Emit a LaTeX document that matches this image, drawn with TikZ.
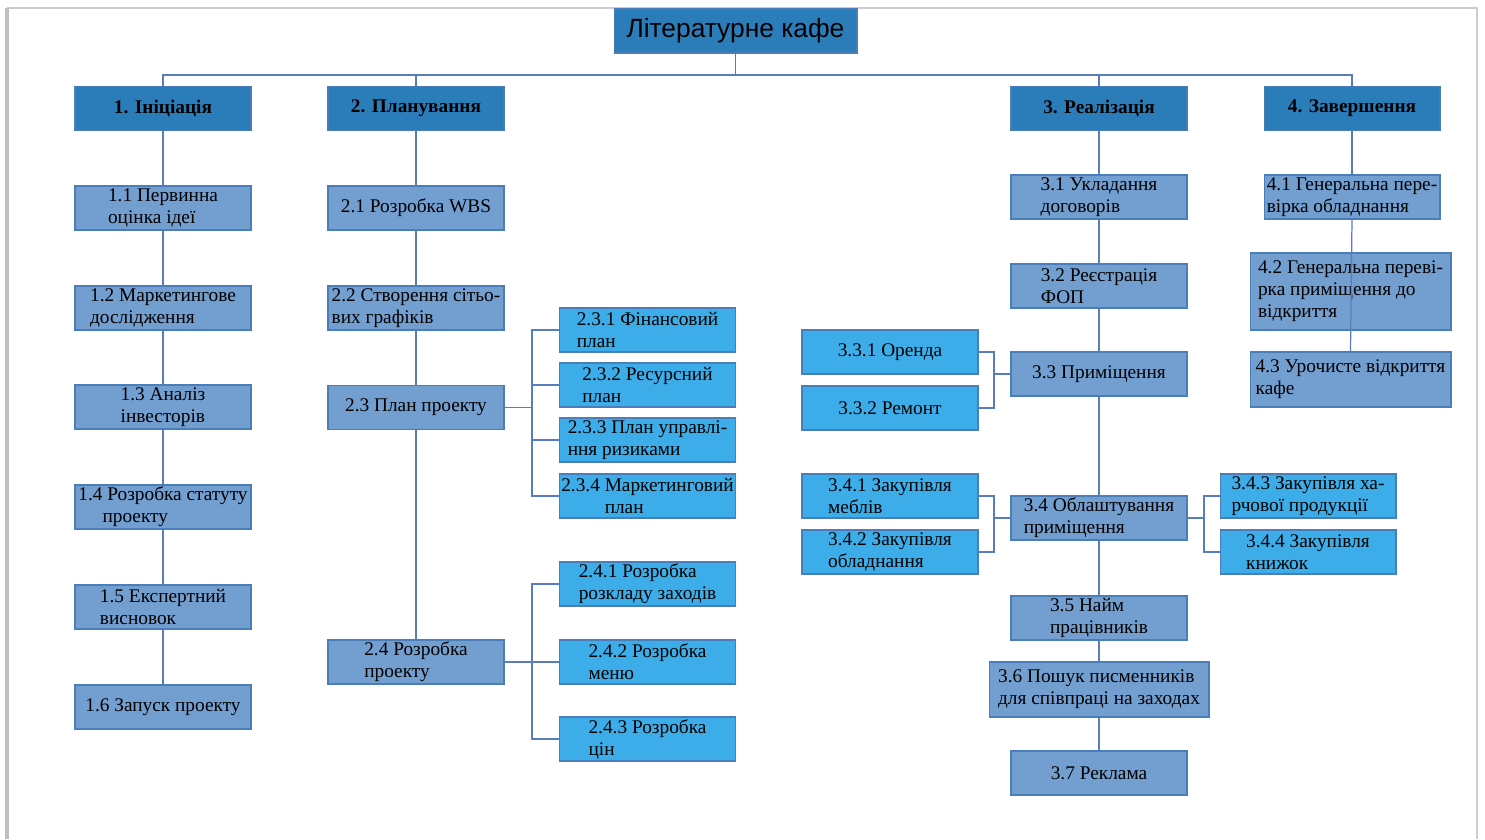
\documentclass[tikz,border=0pt]{standalone}
\usepackage{fontspec}
\setmainfont{Liberation Serif}
\newfontfamily\titlefont{Liberation Sans}
\definecolor{darkbox}{RGB}{43,125,186}
\definecolor{midbox}{RGB}{114,159,207}
\definecolor{lightbox}{RGB}{60,173,232}
\definecolor{boxline}{RGB}{74,126,187}
\definecolor{wirecol}{RGB}{88,124,190}
\begin{document}
\begin{tikzpicture}
  [x=0.02cm,y=-0.02cm,
   every node/.style={rectangle,draw=boxline,line width=0.6pt,minimum width=3.52cm,minimum height=0.88cm,
     inner sep=1pt,align=left,font=\fontsize{11}{12.5}\selectfont},
   headbox/.style={fill=darkbox,font=\fontsize{11}{12.5}\selectfont\bfseries},
   taskbox/.style={fill=midbox},
   subbox/.style={fill=lightbox},
   wire/.style={draw=wirecol,line width=0.7pt}]
  \useasboundingbox (0,0) rectangle (1485,839);
  % page edge
  \draw[gray!40,line width=1.2pt] (7,8) -- (1477,8) -- (1477,839);
  \draw[gray!50,line width=2.4pt] (7,839) -- (7,8);

  \node[headbox,minimum width=4.86cm,font=\titlefont\fontsize{15}{17}\selectfont] (top) at (735.5,31) {Літературне кафе};
  \coordinate (bus) at (735.5,75);

  \node[headbox] (p1) at (163,108.5) {1. Ініціація};
  \node[headbox] (p2) at (416,108.5) {2. Планування};
  \node[headbox] (p3) at (1099,108.5) {3. Реалізація};
  \node[headbox] (p4) at (1352,108.5) {4. Завершення};

  \node[taskbox] (n11) at (163,208) {1.1 Первинна\\оцінка ідеї};
  \node[taskbox] (n12) at (163,308) {1.2 Маркетингове\\дослідження};
  \node[taskbox] (n13) at (163,407) {1.3 Аналіз\\інвесторів};
  \node[taskbox] (n14) at (163,507) {1.4 Розробка статуту\\\quad\ проекту};
  \node[taskbox] (n15) at (163,607) {1.5 Експертний\\висновок};
  \node[taskbox] (n16) at (163,707) {1.6 Запуск проекту};

  \node[taskbox] (n21) at (416,208) {2.1 Розробка WBS};
  \node[taskbox] (n22) at (416,308) {2.2 Створення сітьо-\\вих графіків};
  \node[taskbox] (n23) at (416,407.5) {2.3 План проекту};
  \node[taskbox] (n24) at (416,662) {2.4 Розробка\\проекту};
  \coordinate (j23) at (532,407.5);
  \coordinate (j24) at (532,662);

  \node[subbox] (n231) at (647.5,330) {2.3.1 Фінансовий\\план};
  \node[subbox] (n232) at (647.5,385) {2.3.2 Ресурсний\\план};
  \node[subbox] (n233) at (647.5,440) {2.3.3 План управлі-\\ння ризиками};
  \node[subbox] (n234) at (647.5,496) {2.3.4 Маркетинговий\\\qquad\ план};
  \node[subbox] (n241) at (647.5,584) {2.4.1 Розробка\\розкладу заходів};
  \node[subbox] (n242) at (647.5,662) {2.4.2 Розробка\\меню};
  \node[subbox] (n243) at (647.5,739) {2.4.3 Розробка\\цін};

  \node[taskbox] (n31) at (1099,197) {3.1 Укладання\\договорів};
  \node[taskbox] (n32) at (1099,286) {3.2 Реєстрація\\ФОП};
  \node[taskbox] (n33) at (1099,374) {3.3 Приміщення};
  \node[taskbox] (n34) at (1099,518) {3.4 Облаштування\\приміщення};
  \node[taskbox] (n35) at (1099,618) {3.5 Найм\\працівників};
  \node[taskbox,minimum width=4.4cm,minimum height=1.1cm] (n36) at (1099,689.5) {3.6 Пошук писменників\\для співпраці на заходах};
  \node[taskbox] (n37) at (1099,773) {3.7 Реклама};
  \coordinate (j33) at (994,374);
  \coordinate (j34l) at (994,518);
  \coordinate (j34r) at (1204,518);

  \node[subbox] (n331) at (890,352) {3.3.1 Оренда};
  \node[subbox] (n332) at (890,408) {3.3.2 Ремонт};
  \node[subbox] (n341) at (890,496) {3.4.1 Закупівля\\меблів};
  \node[subbox] (n342) at (890,552) {3.4.2 Закупівля\\обладнання};
  \node[subbox] (n343) at (1308,496) {3.4.3 Закупівля ха-\\рчової продукції};
  \node[subbox] (n344) at (1308,552) {3.4.4 Закупівля\\книжок};

  \node[taskbox] (n41) at (1352,197) {4.1 Генеральна пере-\\вірка обладнання};
  \node[taskbox,minimum width=4.02cm,minimum height=1.54cm] (n42) at (1350.5,291.5) {4.2 Генеральна переві-\\рка приміщення до\\відкриття};
  \node[taskbox,minimum width=4.02cm,minimum height=1.1cm] (n43) at (1350.5,379.5) {4.3 Урочисте відкриття\\кафе};

  \draw[wire] (top) -- (bus);
  \foreach \to in {p1,p2,p3,p4}
    \draw[wire] (bus) -| (\to);

  \foreach \from/\to in {p1/n11,n11/n12,n12/n13,n13/n14,n14/n15,n15/n16,
   p2/n21,n21/n22,n22/n23,n23/n24,
   p3/n31,n31/n32,n32/n33,n33/n34,n34/n35,n35/n36,n36/n37,p4/n41}
    \draw[wire] (\from) -- (\to);

  \draw[wire] (n23) -- (j23);
  \foreach \to in {n231,n232,n233,n234}
    \draw[wire] (j23) |- (\to);
  \draw[wire] (n24) -- (j24);
  \foreach \to in {n241,n242,n243}
    \draw[wire] (j24) |- (\to);
  \draw[wire] (n33) -- (j33);
  \foreach \to in {n331,n332}
    \draw[wire] (j33) |- (\to);
  \draw[wire] (n34) -- (j34l);
  \foreach \to in {n341,n342}
    \draw[wire] (j34l) |- (\to);
  \draw[wire] (n34) -- (j34r);
  \foreach \to in {n343,n344}
    \draw[wire] (j34r) |- (\to);
  \draw[wire] (n41.south) -- (n43.north);
\end{tikzpicture}
\end{document}
